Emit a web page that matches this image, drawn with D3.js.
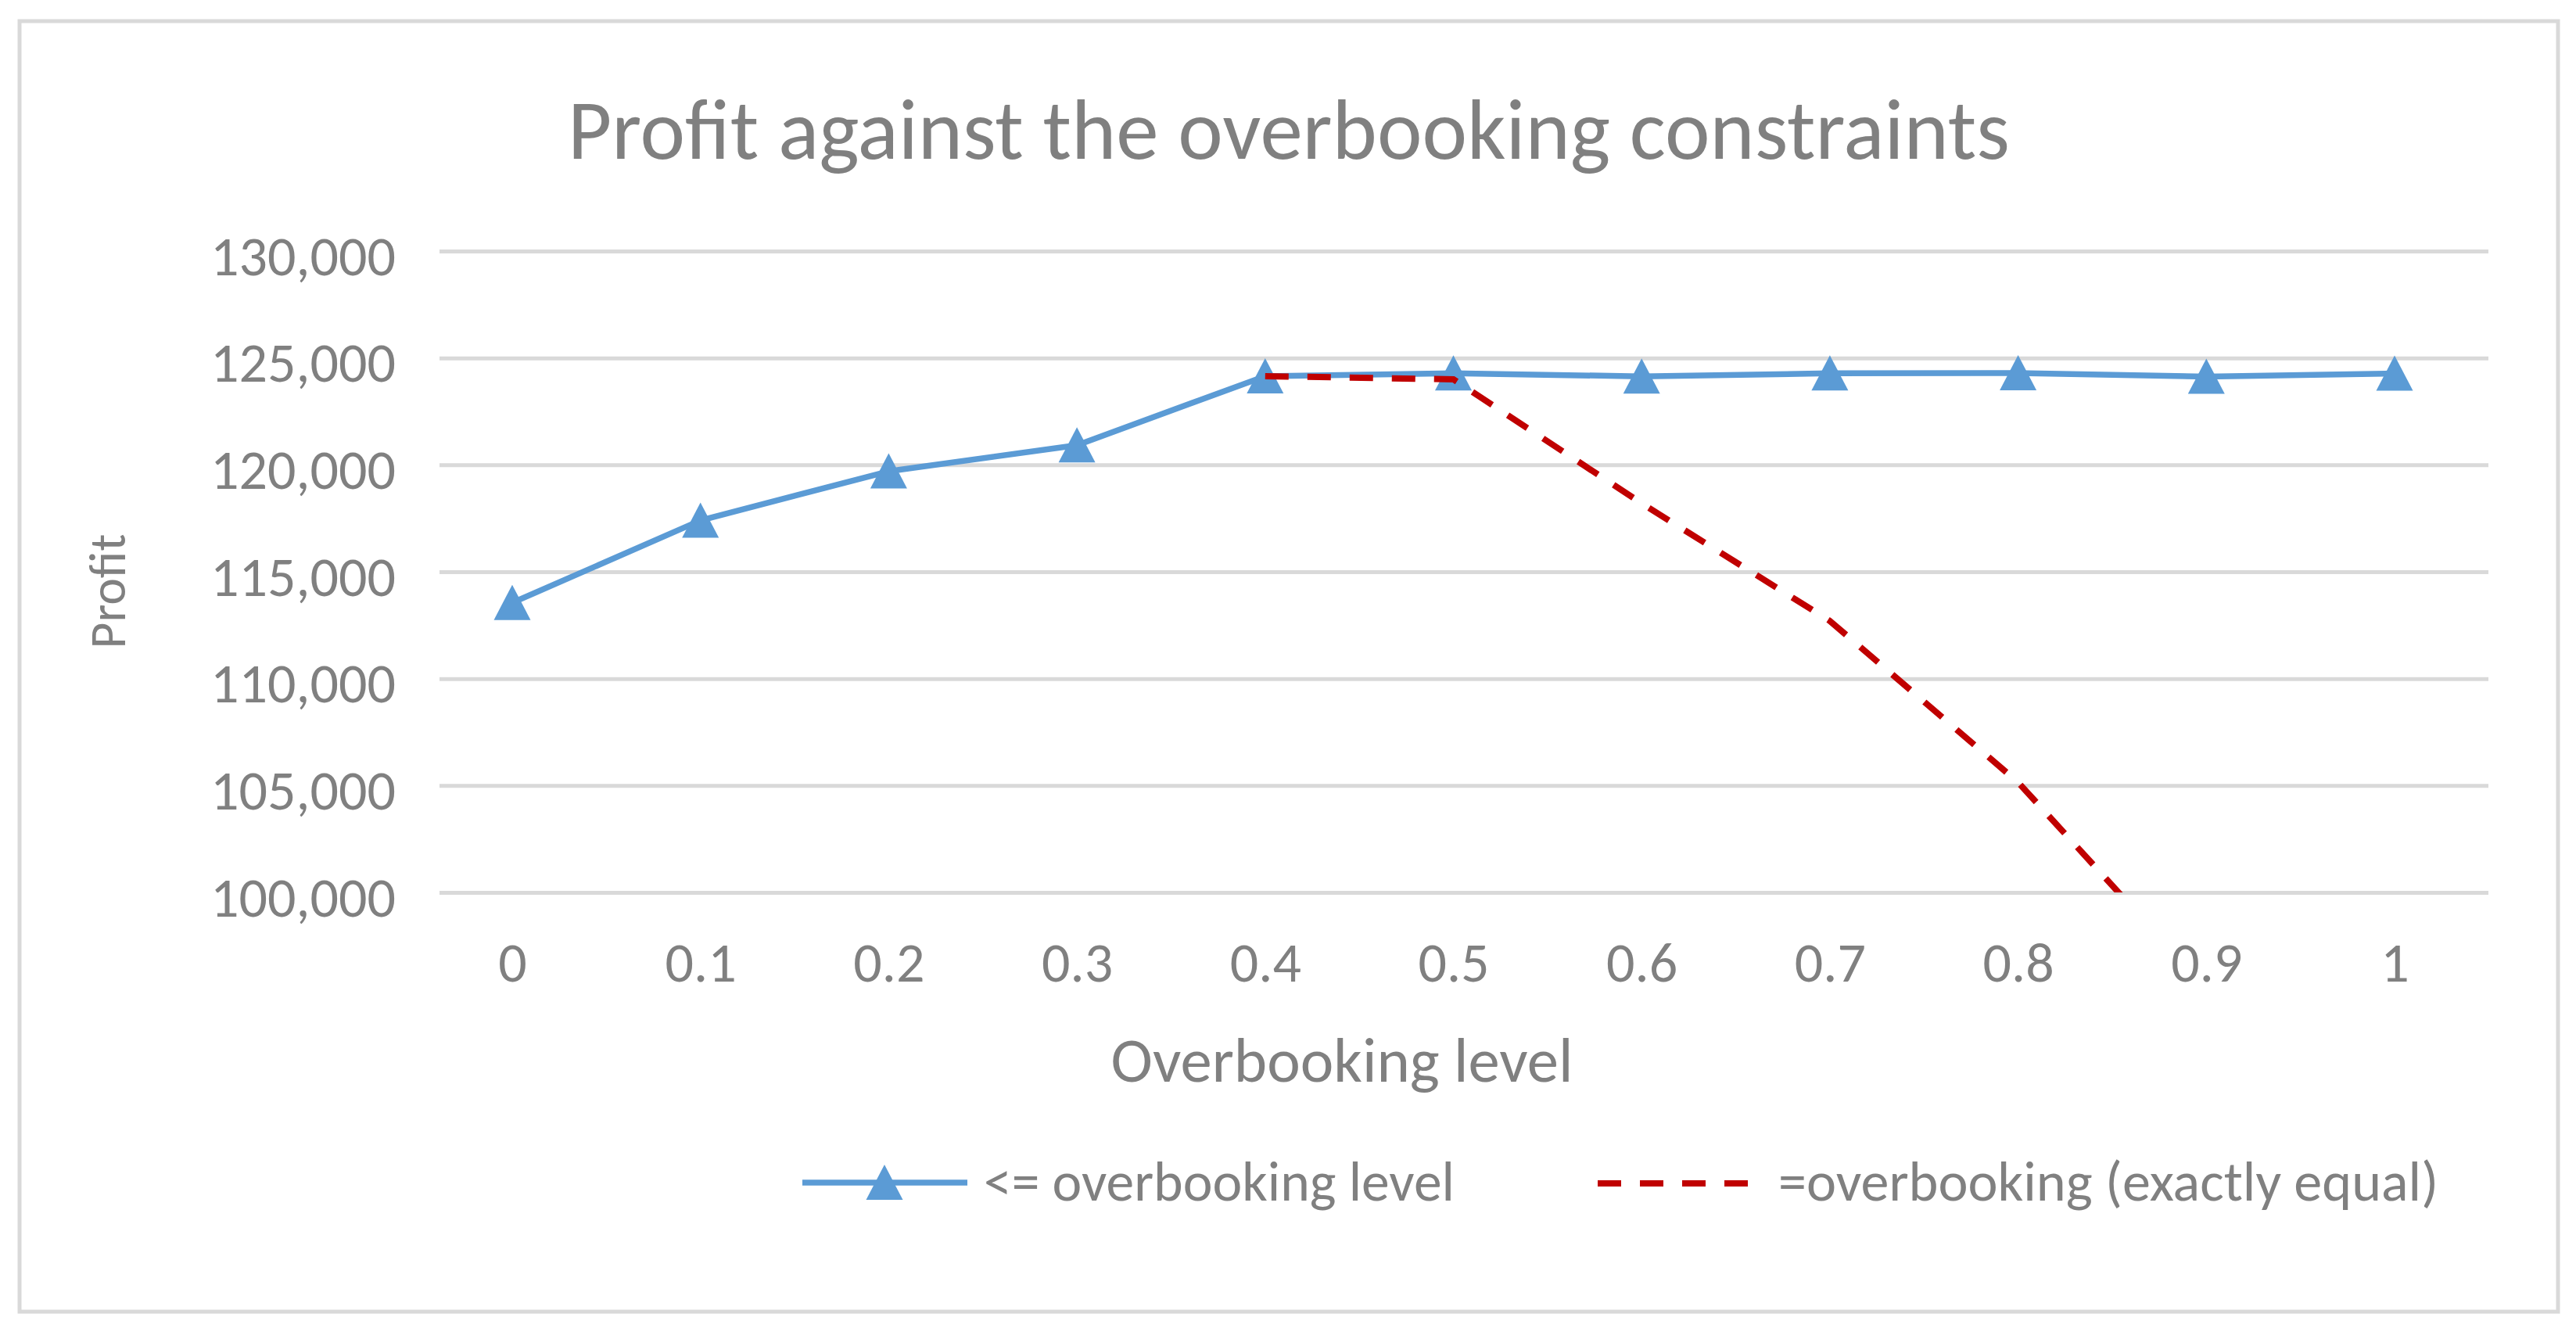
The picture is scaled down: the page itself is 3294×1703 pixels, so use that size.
<!DOCTYPE html>
<html>
<head>
<meta charset="utf-8">
<script src="https://cdn.jsdelivr.net/npm/d3@7"></script>
<style>
  body { margin: 0; background: #fff; }
  text { font-family: Carlito, Calibri, Lato, "Open Sans", sans-serif; fill: #808080; }
</style>
</head>
<body>
<svg id="chart" width="3294" height="1703"></svg>
<script>
const levels = ["0", "0.1", "0.2", "0.3", "0.4", "0.5", "0.6", "0.7", "0.8", "0.9", "1"];
const atMost = [113550, 117400, 119700, 120920, 124150, 124280, 124140, 124280, 124290, 124130, 124270];
const exactly = [null, null, null, null, 124150, 124000, 118200, 112700, 105150, 95500, 84000];
const yTicks = [100000, 105000, 110000, 115000, 120000, 125000, 130000];
const seriesNames = ["<= overbooking level", "=overbooking (exactly equal)"];

const width = 3294;
const height = 1703;
const plot = { left: 562, right: 3182, top: 321, bottom: 1141 };
const blue = "#5b9bd5";
const red = "#c00000";

const svg = d3.select("#chart");

svg.append("rect")
  .attr("x", 25)
  .attr("y", 27)
  .attr("width", 3246)
  .attr("height", 1650)
  .attr("fill", "#fff")
  .attr("stroke", "#d9d9d9")
  .attr("stroke-width", 5);

const x = d3.scalePoint().domain(levels).range([655, 3062]);
const y = d3.scaleLinear().domain([100000, 130000]).range([plot.bottom, plot.top]);

// gridlines + y labels
const yAxis = svg.append("g")
  .attr("transform", `translate(${plot.left},0)`)
  .call(
    d3.axisLeft(y)
      .tickValues(yTicks)
      .tickSize(-(plot.right - plot.left))
      .tickPadding(56)
      .tickFormat(d3.format(","))
  );
yAxis.select(".domain").remove();
yAxis.selectAll(".tick line").attr("stroke", "#d9d9d9").attr("stroke-width", 5);
yAxis.selectAll(".tick text")
  .attr("dy", "0.42em")
  .style("font-size", "72px")
  .style("fill", "#808080");

const xAxis = svg.append("g")
  .attr("transform", `translate(0,${plot.bottom})`)
  .call(d3.axisBottom(x).tickSize(0).tickPadding(63));
xAxis.select(".domain").remove();
xAxis.selectAll(".tick text")
  .style("font-size", "72px")
  .style("fill", "#808080");

svg.append("defs")
  .append("clipPath")
  .attr("id", "plotClip")
  .append("rect")
  .attr("x", plot.left)
  .attr("y", plot.top - 60)
  .attr("width", plot.right - plot.left)
  .attr("height", plot.bottom - plot.top + 60);

const line = d3.line()
  .defined((d) => d.v !== null)
  .x((d) => x(d.level))
  .y((d) => y(d.v));

const blueData = levels.map((level, i) => ({ level, v: atMost[i] }));
const redData = levels.map((level, i) => ({ level, v: exactly[i] }));

svg.append("path")
  .datum(blueData)
  .attr("d", line)
  .attr("fill", "none")
  .attr("stroke", blue)
  .attr("stroke-width", 7.5)
  .attr("stroke-linejoin", "round");

const triangle = "M0,-23L23.5,22L-23.5,22Z";

svg.append("g")
  .selectAll("path")
  .data(blueData)
  .enter()
  .append("path")
  .attr("transform", (d) => `translate(${x(d.level)},${y(d.v)})`)
  .attr("d", triangle)
  .attr("fill", blue);

svg.append("path")
  .datum(redData)
  .attr("clip-path", "url(#plotClip)")
  .attr("d", line)
  .attr("fill", "none")
  .attr("stroke", red)
  .attr("stroke-width", 8)
  .attr("stroke-dasharray", "30 24");

// titles
svg.append("text")
  .attr("x", 726)
  .attr("y", 203)
  .attr("textLength", 1844)
  .attr("lengthAdjust", "spacingAndGlyphs")
  .style("font-size", "110px")
  .text("Profit against the overbooking constraints");

svg.append("text")
  .attr("x", 1716)
  .attr("y", 1383)
  .attr("text-anchor", "middle")
  .attr("textLength", 591)
  .attr("lengthAdjust", "spacingAndGlyphs")
  .style("font-size", "80px")
  .text("Overbooking level");

svg.append("text")
  .attr("transform", "translate(160,756) rotate(-90)")
  .attr("text-anchor", "middle")
  .attr("textLength", 147)
  .attr("lengthAdjust", "spacingAndGlyphs")
  .style("font-size", "66px")
  .text("Profit");

// legend
const legend = svg.append("g");
legend.append("line")
  .attr("x1", 1026).attr("x2", 1237)
  .attr("y1", 1512).attr("y2", 1512)
  .attr("stroke", blue)
  .attr("stroke-width", 7.5);
legend.append("path")
  .attr("transform", "translate(1131,1512)")
  .attr("d", triangle)
  .attr("fill", blue);
legend.append("text")
  .attr("x", 1258)
  .attr("y", 1535)
  .attr("textLength", 602)
  .attr("lengthAdjust", "spacingAndGlyphs")
  .style("font-size", "72px")
  .text(seriesNames[0]);

legend.append("line")
  .attr("x1", 2043).attr("x2", 2237)
  .attr("y1", 1513).attr("y2", 1513)
  .attr("stroke", red)
  .attr("stroke-width", 8)
  .attr("stroke-dasharray", "30 24");
legend.append("text")
  .attr("x", 2274)
  .attr("y", 1535)
  .attr("textLength", 844)
  .attr("lengthAdjust", "spacingAndGlyphs")
  .style("font-size", "72px")
  .text(seriesNames[1]);
</script>
</body>
</html>
